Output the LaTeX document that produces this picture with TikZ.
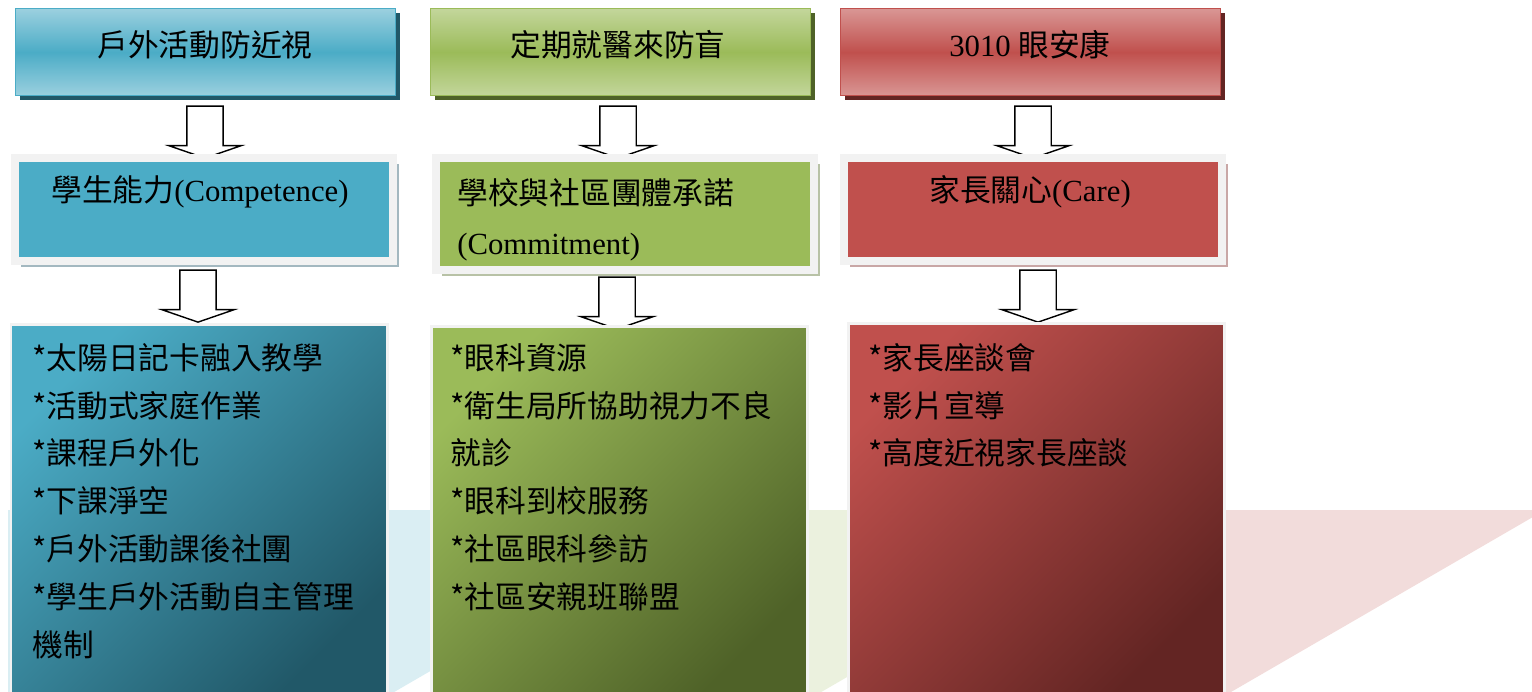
\documentclass[tikz,border=0pt]{standalone}
\usepackage{fontspec}
\setmainfont{Liberation Serif}
\newfontfamily\cjk{Noto Sans CJK TC}
\usetikzlibrary{shapes.arrows,shadows}

\definecolor{bluemain}{HTML}{4BACC6}
\definecolor{bluelight}{HTML}{9BD0DF}
\definecolor{bluedark}{HTML}{215868}
\definecolor{blueshade}{HTML}{A3B8C0}
\definecolor{bluetri}{HTML}{DAEEF3}
\definecolor{greenmain}{HTML}{9BBB59}
\definecolor{greenlight}{HTML}{C3D69B}
\definecolor{greendark}{HTML}{4F6228}
\definecolor{greenshade}{HTML}{B8C2A6}
\definecolor{greentri}{HTML}{EBF1DE}
\definecolor{redmain}{HTML}{C0504D}
\definecolor{redlight}{HTML}{D99694}
\definecolor{reddark}{HTML}{632523}
\definecolor{redshade}{HTML}{C9A7A6}
\definecolor{redtri}{HTML}{F2DCDB}
\definecolor{framegray}{HTML}{F2F2F2}

\begin{document}
\begin{tikzpicture}
  [
    x=0.02cm, y=-0.02cm,
    inner sep=0mm,
    txt/.style={font=\fontsize{17.5}{27.2}\selectfont},
    zh/.style={font=\fontsize{17.5}{27.2}\selectfont\cjk},
    headbox/.style={anchor=north west,minimum width=7.6cm,minimum height=1.74cm,
      draw=#1main,line width=0.8pt,top color=#1light,bottom color=#1light,middle color=#1main,
      drop shadow={shadow xshift=0.08cm,shadow yshift=-0.08cm,opacity=1,fill=#1dark}},
    midbox/.style={anchor=north west,minimum width=7.56cm,fill=#1main,draw=framegray,line width=0.16cm,
      drop shadow={shadow xshift=0.12cm,shadow yshift=-0.12cm,opacity=1,fill=#1shade}},
    listbox/.style={anchor=north west,minimum width=7.54cm,minimum height=7.44cm,
      draw=framegray,line width=0.06cm,top color=#1main,bottom color=#1dark,shading angle=45},
    downarrow/.style={single arrow,rotate=-90,draw=black,fill=white,line width=0.8pt,
      inner xsep=0pt,inner ysep=0.35cm,minimum height=1.04cm,minimum width=0pt,
      single arrow head extend=0.36cm,single arrow tip angle=142},
  ]
  \useasboundingbox (0,0) rectangle (1532,692);
  \clip (0,0) rectangle (1532,692);

  % background wedges
  \fill[bluetri] (8,510) -- (708,510) -- (8,916) -- cycle;
  \fill[greentri] (430,510) -- (1135,510) -- (430,919) -- cycle;
  \fill[redtri] (848,510) -- (1545,510) -- (848,914) -- cycle;

  % outdoor column
  \node[headbox=blue] (out) at (15,8) {};
  \node[zh] (outt) at (205,45) {戶外活動防近視};
  \node[downarrow] (out1) at (205,129) {};
  \node[midbox=blue,minimum height=2.06cm] (comp) at (11,154) {};
  \node[txt] (compt) at (200,192) {{\cjk 學生能力}(Competence)};
  \node[downarrow] (out2) at (198,293) {};
  \node[listbox=blue] (compl) at (9.5,323.5) {};
  \node[zh,anchor=north west,align=left] (complt) at (32,343)
    {*太陽日記卡融入教學\\*活動式家庭作業\\*課程戶外化\\*下課淨空\\*戶外活動課後社團\\*學生戶外活動自主管理\\機制};

  % clinic column
  \node[headbox=green] (med) at (430,8) {};
  \node[zh] (medt) at (618,45) {定期就醫來防盲};
  \node[downarrow] (med1) at (618,129) {};
  \node[midbox=green,minimum height=2.24cm] (comm) at (432,154) {};
  \node[txt,anchor=north west,align=left,font=\fontsize{17.5}{28.3}\selectfont] (commt) at (457,178)
    {{\cjk 學校與社區團體承諾}\\(Commitment)};
  \node[downarrow] (med2) at (617,300) {};
  \node[listbox=green] (comml) at (429.5,325) {};
  \node[zh,anchor=north west,align=left] (commlt) at (450,343)
    {*眼科資源\\*衛生局所協助視力不良\\就診\\*眼科到校服務\\*社區眼科參訪\\*社區安親班聯盟};

  % parent column
  \node[headbox=red] (eye) at (840,8) {};
  \node[txt] (eyet) at (1030,45) {3010 {\cjk 眼安康}};
  \node[downarrow] (eye1) at (1033,129) {};
  \node[midbox=red,minimum height=2.06cm] (care) at (840,154) {};
  \node[txt] (caret) at (1030,192) {{\cjk 家長關心}(Care)};
  \node[downarrow] (eye2) at (1038,293) {};
  \node[listbox=red] (carel) at (846.5,322) {};
  \node[zh,anchor=north west,align=left] (carelt) at (868,343)
    {*家長座談會\\*影片宣導\\*高度近視家長座談};
\end{tikzpicture}
\end{document}
